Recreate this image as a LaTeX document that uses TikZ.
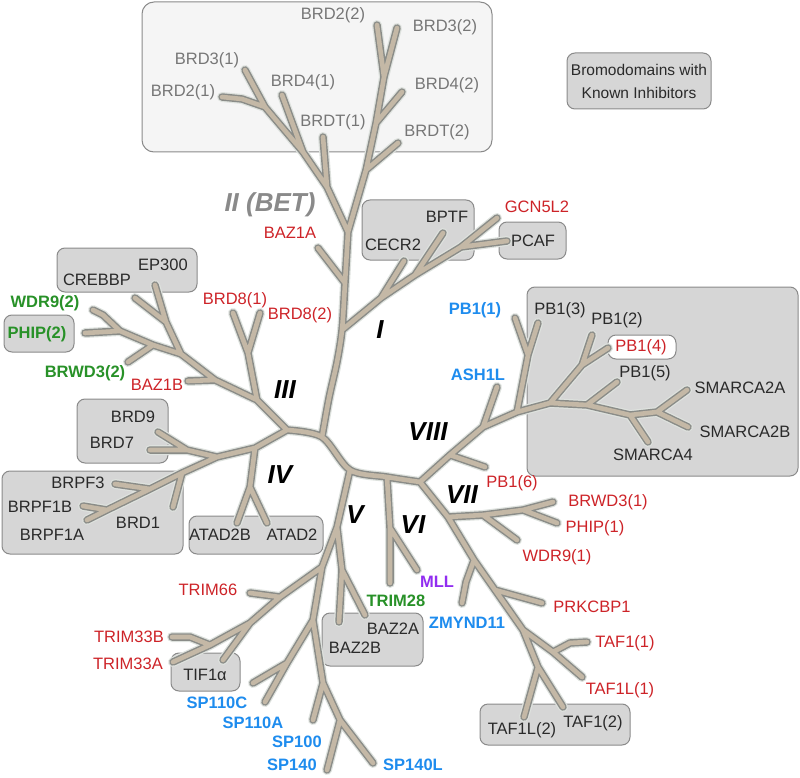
\documentclass[tikz,border=0pt]{standalone}
\usepackage{fontspec}
\setmainfont{Liberation Sans}
\definecolor{brcore}{RGB}{196,184,166}
\definecolor{brline}{RGB}{138,140,136}
\definecolor{brhalo}{RGB}{222,226,222}
\definecolor{boxfill}{RGB}{214,214,214}
\definecolor{boxline}{RGB}{138,138,138}
\definecolor{betfill}{RGB}{245,245,245}
\definecolor{txred}{RGB}{205,35,40}
\definecolor{txgreen}{RGB}{40,145,40}
\definecolor{txblue}{RGB}{30,140,238}
\definecolor{txpurple}{RGB}{145,45,240}
\definecolor{txgray}{RGB}{118,118,118}
\definecolor{txdark}{RGB}{42,42,42}
\begin{document}
\begin{tikzpicture}[x=1pt, y=-1pt,
  lab/.style={font=\fontsize{16.5}{18}\selectfont, inner sep=0pt, text=txdark},
  betlab/.style={lab, text=txgray},
  redlab/.style={lab, text=txred},
  boldlab/.style={lab, font=\fontsize{16.5}{18}\selectfont\bfseries},
  grnlab/.style={boldlab, text=txgreen},
  bluelab/.style={boldlab, text=txblue},
  purlab/.style={boldlab, text=txpurple},
  clade/.style={font=\fontsize{26}{28}\selectfont\bfseries\itshape, inner sep=0pt},
  grpbox/.style={draw=boxline, fill=boxfill, line width=1pt, rounded corners=8pt},
  betbox/.style={grpbox, fill=betfill, rounded corners=12pt}]
\useasboundingbox (0,0) rectangle (800,778);

% group boxes
\draw[betbox] (142,2) rectangle (492,152);
\draw[grpbox] (567,53) rectangle (711,109);
\draw[grpbox] (362,200) rectangle (474,260);
\draw[grpbox] (499,222) rectangle (566,259);
\draw[grpbox] (57,248) rectangle (197,292);
\draw[grpbox] (4,315) rectangle (74,352);
\draw[grpbox] (77,399) rectangle (168,463);
\draw[grpbox] (2,471) rectangle (183,554);
\draw[grpbox] (189,516) rectangle (323,554);
\draw[grpbox] (171,653) rectangle (240,691);
\draw[grpbox] (322,613) rectangle (423,666);
\draw[grpbox] (480,704) rectangle (630,745);
\draw[grpbox] (527,287) rectangle (798,476);
\draw[grpbox, fill=white] (608,335) rectangle (676,359);

% branch points and tips
\foreach \n/\x/\y in {h3/287/430, hA/322/437, h5/350/470, h6/387/477, h7/420/482,
    hI/342/330, hZ/345/283, hII/348/232,
    iC/381/298, iB/415/275, iG/461/247, gcnT/497/218, pcafT/507/241, cecrT/404/261, bptfT/443/233,
    bazaT/318/248,
    bL1/327/187, bL2/303/152, bL3/265/107, brd31T/245/70, brd21T/222/97, brdt1T/323/137, brd41T/282/95,
    bR1/366/170, bR2/376/123, bR3/384/77, brd22T/377/25, brd32T/397/28, brdt2T/398/143, brd42T/402/92,
    t1/257/400, t2/215/380, t3/181/354, t4/153/345, t5/120/331, wdr92T/93/310, phip2T/85/333,
    t8/248/353, brd81T/233/313, brd82T/260/313, bazbT/188/381,
    t9/166/322, ep300T/155/285, crebbpT/135/298, brwd32T/128/362,
    u1/255/448, u2/217/457, u3/182/473, u4/150/489, u5/107/510, brpf1aT/87/520,
    u6/250/487, atad2bT/237/523, atad2T/267/523, u7/187/450, brd7T/150/450, brd9T/158/432,
    brd1T/173/507, brpf3T/115/484, brpf1bT/83/506,
    v1/337/527, v2/322/567, v3/313/620, v4/323/683, v5/340/720, sp140lT/373/763, sp140T/327/770,
    sp100T/313/720, v6/287/663, sp110cT/253/683, sp110aT/265/702,
    v7/342/570, baz2bT/339/622, baz2aT/365/615,
    w1/280/597, w2/250/623, w3/210/645, trim33aT/173/662, trim33bT/172/637, trim66T/250/593, tifT/223/660,
    r1/390/528, trim28T/390/583, mllT/417/570,
    x1/448/517, x2/474/560, x3/495/590, x4/523/630, x5/538/667, taf12T/563/707, taf1l2T/524/717,
    y1/483/515, y2/523/510, brwd31T/553/502, phip1T/557/523, wdr91T/517/540,
    zmyndT/462/603, prkT/542/603, z1/553/652, taf1l1T/582/677, taf11T/587/642,
    p1/450/455, p2/483/427, p3/517/412, p4/550/403, p5/587/405, p6/630/415, p7/657/412,
    sm2aT/687/390, sm2bT/688/427, pb16T/485/467, ash1lT/497/387,
    q1/528/355, pb11T/515/318, pb13T/538/323, q2/582/365, pb12T/592/335, pb14T/608/348,
    pb15T/617/382, sm4T/648/442}
  \coordinate (\n) at (\x,\y);

% the tree, drawn as halo, rim and core
\foreach \w/\c in {10/brhalo, 7.5/brline, 4.6/brcore}
  \draw[line width=\w pt, \c, line cap=round, line join=round]
    plot[smooth] coordinates {(h3) (hA) (h5) (h6) (h7)}
    plot[smooth] coordinates {(hA) (329,398) (337,362) (hI) (hZ) (hII)}
    (hI) -- (iC) -- (iB) -- (iG) -- (gcnT) (iG) -- (pcafT) (iC) -- (cecrT) (iB) -- (bptfT)
    (hZ) -- (bazaT)
    (hII) -- (bL1) -- (bL2) -- (bL3) -- (brd31T) (bL3) -- (242,99) -- (brd21T)
    (bL1) -- (brdt1T) (bL2) -- (brd41T)
    (hII) -- (bR1) -- (bR2) -- (bR3) -- (brd22T) (bR3) -- (brd32T)
    (bR1) -- (brdt2T) (bR2) -- (brd42T)
    (h3) -- (t1) -- (t2) -- (t3) -- (t4) -- (t5) -- (103,315) -- (wdr92T) (t5) -- (phip2T)
    (t1) -- (t8) -- (brd81T) (t8) -- (brd82T) (t2) -- (bazbT)
    (t3) -- (t9) -- (ep300T) (t9) -- (crebbpT) (t4) -- (brwd32T)
    (h3) -- (u1) -- (u2) -- (u3) -- (u4) -- (u5) -- (brpf1aT)
    (u1) -- (u6) -- (atad2bT) (u6) -- (atad2T) (u2) -- (u7) -- (brd7T) (u7) -- (brd9T)
    (u3) -- (brd1T) (u4) -- (brpf3T) (u5) -- (brpf1bT)
    (h5) -- (v1) -- (v2) -- (v3) -- (v4) -- (v5) -- (sp140lT) (v5) -- (sp140T)
    (v4) -- (sp100T) (v3) -- (v6) -- (sp110cT) (v6) -- (sp110aT)
    (v1) -- (v7) -- (baz2bT) (v7) -- (baz2aT)
    (v2) -- (w1) -- (w2) -- (w3) -- (trim33aT) (w3) -- (190,637) -- (trim33bT)
    (w1) -- (trim66T) (w2) -- (tifT)
    (h6) -- (r1) -- (trim28T) (r1) -- (mllT)
    (h7) -- (x1) -- (x2) -- (x3) -- (x4) -- (x5) -- (taf12T) (x5) -- (taf1l2T)
    (x1) -- (y1) -- (y2) -- (brwd31T) (y2) -- (phip1T) (y1) -- (wdr91T)
    (x2) -- (466,582) -- (zmyndT) (x3) -- (prkT) (x4) -- (z1) -- (taf1l1T) (z1) -- (570,643) -- (taf11T)
    (h7) -- (p1) -- (p2) -- (p3) -- (p4) -- (p5) -- (p6) -- (p7) -- (sm2aT) (p7) -- (sm2bT)
    (p1) -- (pb16T) (p2) -- (ash1lT) (p3) -- (q1) -- (pb11T) (q1) -- (pb13T)
    (p4) -- (q2) -- (pb12T) (q2) -- (pb14T) (p5) -- (pb15T) (p6) -- (sm4T);

% clade names
\node[clade, text=txgray!85] (cII) at (270,205) {II (BET)};
\node[clade] (cI) at (380,330) {I};
\node[clade] (cIII) at (285,390) {III};
\node[clade] (cIV) at (280,475) {IV};
\node[clade] (cV) at (355,515) {V};
\node[clade] (cVI) at (413,525) {VI};
\node[clade] (cVII) at (462,495) {VII};
\node[clade] (cVIII) at (428,432) {VIII};

% legend
\node[lab, align=center, font=\fontsize{15.5}{23}\selectfont] (legend) at (639,81) {Bromodomains with\\Known Inhibitors};

% BET
\node[betlab] (brd22) at (333,15) {BRD2(2)};
\node[betlab] (brd32) at (445,27) {BRD3(2)};
\node[betlab] (brd31) at (207,60) {BRD3(1)};
\node[betlab] (brd41) at (303,82) {BRD4(1)};
\node[betlab] (brd21) at (183,92) {BRD2(1)};
\node[betlab] (brd42) at (447,85) {BRD4(2)};
\node[betlab] (brdt1) at (333,122) {BRDT(1)};
\node[betlab] (brdt2) at (437,132) {BRDT(2)};

% I
\node[redlab] (baz1a) at (290,233) {BAZ1A};
\node[lab] (bptf) at (447,217) {BPTF};
\node[lab] (cecr2) at (393,245) {CECR2};
\node[redlab] (gcn5l2) at (537,207) {GCN5L2};
\node[lab] (pcaf) at (533,241) {PCAF};

% III
\node[lab] (crebbp) at (97,280) {CREBBP};
\node[lab] (ep300) at (163,265) {EP300};
\node[grnlab] (wdr92) at (45,303) {WDR9(2)};
\node[grnlab] (phip2) at (37,334) {PHIP(2)};
\node[grnlab] (brwd32) at (85,373) {BRWD3(2)};
\node[redlab] (baz1b) at (157,385) {BAZ1B};
\node[redlab] (brd81) at (235,300) {BRD8(1)};
\node[redlab] (brd82) at (300,315) {BRD8(2)};

% IV
\node[lab] (brd9) at (133,417) {BRD9};
\node[lab] (brd7) at (112,443) {BRD7};
\node[lab] (brpf3) at (78,483) {BRPF3};
\node[lab] (brpf1b) at (40,507) {BRPF1B};
\node[lab] (brpf1a) at (52,535) {BRPF1A};
\node[lab] (brd1) at (138,523) {BRD1};
\node[lab] (atad2b) at (220,535) {ATAD2B};
\node[lab] (atad2) at (292,535) {ATAD2};

% V and VI
\node[redlab] (trim66) at (208,590) {TRIM66};
\node[redlab, anchor=east] (trim33b) at (164,637) {TRIM33B};
\node[redlab, anchor=east] (trim33a) at (163,664) {TRIM33A};
\node[lab] (tif1a) at (205,675) {TIF1α};
\node[bluelab] (sp110c) at (217,703) {SP110C};
\node[bluelab] (sp110a) at (253,723) {SP110A};
\node[bluelab] (sp100) at (297,742) {SP100};
\node[bluelab] (sp140) at (292,765) {SP140};
\node[bluelab] (sp140l) at (413,765) {SP140L};
\node[lab] (baz2a) at (393,629) {BAZ2A};
\node[lab] (baz2b) at (355,648) {BAZ2B};
\node[grnlab] (trim28) at (396,601) {TRIM28};
\node[purlab] (mll) at (437,582) {MLL};

% VII
\node[bluelab] (zmynd11) at (467,623) {ZMYND11};
\node[redlab] (pb16) at (512,483) {PB1(6)};
\node[redlab] (brwd31) at (608,502) {BRWD3(1)};
\node[redlab] (phip1) at (595,528) {PHIP(1)};
\node[redlab] (wdr91) at (557,557) {WDR9(1)};
\node[redlab] (prkcbp1) at (592,607) {PRKCBP1};
\node[redlab] (taf11) at (625,643) {TAF1(1)};
\node[redlab] (taf1l1) at (620,690) {TAF1L(1)};
\node[lab] (taf1l2) at (522,730) {TAF1L(2)};
\node[lab] (taf12) at (593,723) {TAF1(2)};

% VIII
\node[bluelab] (pb11) at (475,310) {PB1(1)};
\node[bluelab] (ash1l) at (478,375) {ASH1L};
\node[lab] (pb13) at (560,310) {PB1(3)};
\node[lab] (pb12) at (617,320) {PB1(2)};
\node[redlab] (pb14) at (641,347) {PB1(4)};
\node[lab] (pb15) at (645,373) {PB1(5)};
\node[lab] (smarca2a) at (740,388) {SMARCA2A};
\node[lab] (smarca2b) at (745,432) {SMARCA2B};
\node[lab] (smarca4) at (653,455) {SMARCA4};
\end{tikzpicture}
\end{document}
